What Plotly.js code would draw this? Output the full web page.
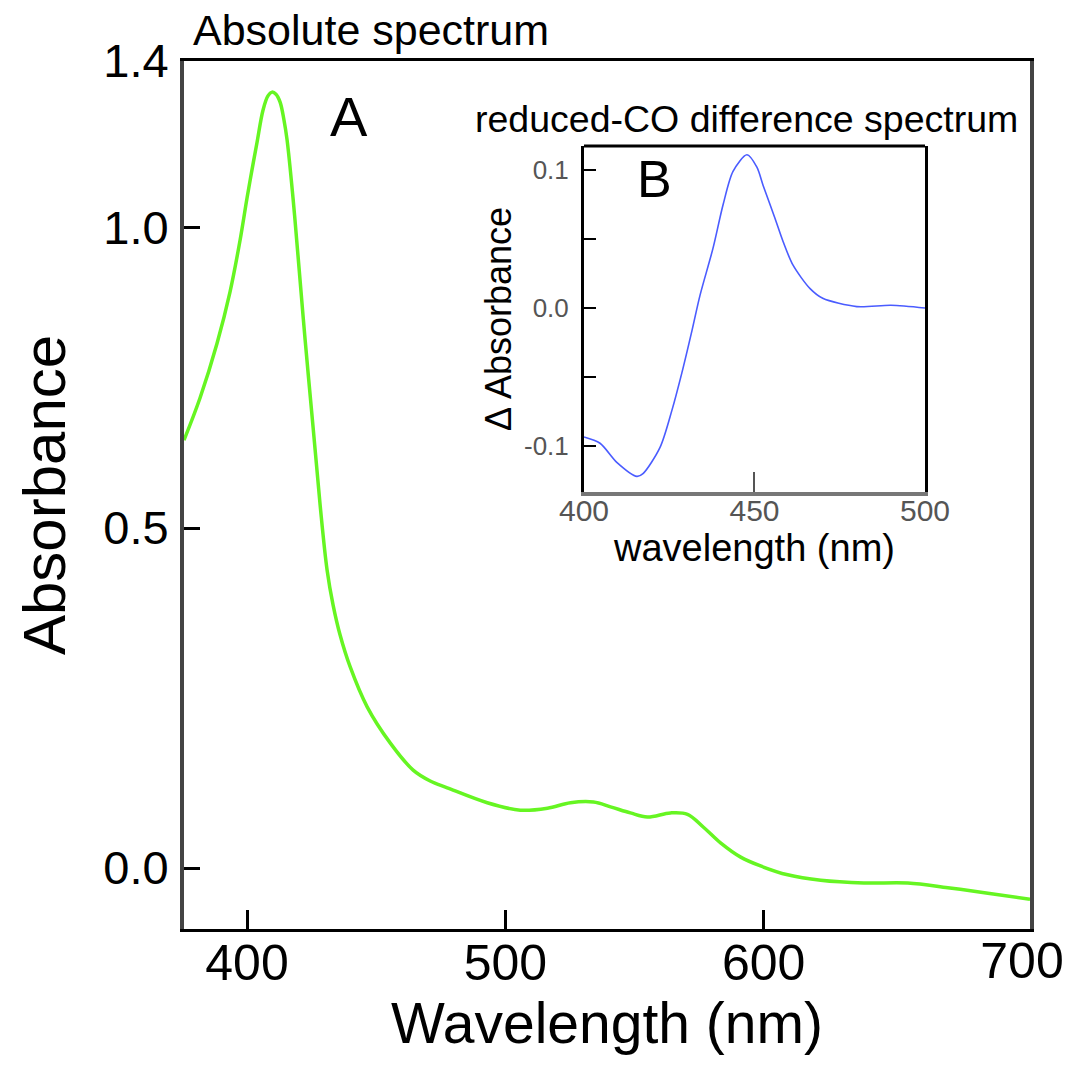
<!DOCTYPE html>
<html>
<head>
<meta charset="utf-8">
<script src="https://cdn.plot.ly/plotly-3.0.1.min.js"></script>
<style>html,body{margin:0;padding:0;background:#fff;}#chart{width:1071px;height:1066px;}</style>
</head>
<body>
<div id="chart"></div>
<script>
// ---- Panel A: absolute spectrum (values as read against the printed tick labels) ----
const mainWavelength = [375.6, 381.8, 388.4, 393.4, 397.3, 400.0, 401.9, 403.9, 406.2, 408.1, 409.7, 411.2, 412.8, 414.3, 415.5, 417.8, 419.8, 422.5, 425.6, 428.3, 431.0, 433.3, 436.0, 439.9, 446.5, 455.4, 464.3, 470.9, 477.5, 493.0, 505.8, 516.3, 525.2, 534.1, 540.7, 548.4, 555.0, 563.9, 570.5, 576.7, 583.3, 591.1, 598.8, 609.3, 622.1, 638.8, 655.8, 671.3, 686.8, 703.1];
const mainAbsorbance = [0.646, 0.716, 0.807, 0.892, 0.978, 1.070, 1.137, 1.205, 1.282, 1.316, 1.325, 1.320, 1.301, 1.258, 1.210, 1.070, 0.949, 0.812, 0.666, 0.538, 0.438, 0.387, 0.343, 0.296, 0.237, 0.184, 0.144, 0.128, 0.118, 0.096, 0.085, 0.088, 0.096, 0.097, 0.090, 0.081, 0.075, 0.081, 0.079, 0.060, 0.037, 0.016, 0.003, -0.010, -0.018, -0.022, -0.022, -0.029, -0.037, -0.046];
const mainXTicks = [400, 500, 600];
const mainXTickText = ['400', '500', '600'];
const mainXEdgeTick = [700];
const mainXEdgeTickText = ['700'];
const mainYTicks = [0, 0.5, 1.0, 1.4];
const mainYTickText = ['0.0', '0.5', '1.0', '1.4'];

// ---- Panel B: reduced-CO difference spectrum ----
const insetWavelength = [400, 404.7, 409.7, 415.5, 417.3, 422.3, 425.8, 428.7, 431.7, 434.0, 437.8, 440.8, 443.7, 447.8, 450.7, 452.5, 456.0, 458.4, 461.3, 466.3, 470.0, 480.0, 490.0, 500.0];
const insetDeltaAbs = [-0.0935, -0.098, -0.112, -0.122, -0.120, -0.101, -0.074, -0.047, -0.016, 0.009, 0.043, 0.075, 0.099, 0.111, 0.102, 0.089, 0.065, 0.048, 0.031, 0.014, 0.007, 0.001, 0.002, 0.000];
const insetXTicks = [400, 450, 500];
const insetXTickText = ['400', '450', '500'];
const insetYTicks = [-0.1, -0.05, 0, 0.05, 0.1];
const insetYTickText = ['-0.1', '', '0.0', '', '0.1'];

// The printed absorbance axis of panel A is not evenly spaced; reproduce it
// as a piecewise-linear axis scale (label value -> drawn position).
const axisScale = { labelKnots: [0, 0.5, 1.0, 1.4], drawKnots: [0, 0.5, 0.9426, 1.1868] };
function toAxis(v) {
  const a = axisScale.labelKnots, d = axisScale.drawKnots;
  if (v <= a[1]) return v;
  for (let i = 1; i < a.length - 1; i++) {
    if (v <= a[i + 1]) return d[i] + (v - a[i]) * (d[i + 1] - d[i]) / (a[i + 1] - a[i]);
  }
  const n = a.length - 1;
  return d[n] + (v - a[n]) * (d[n] - d[n - 1]) / (a[n] - a[n - 1]);
}

const FONT = 'Liberation Sans, Arial, Helvetica, sans-serif';
const X_RANGE = [375.6, 703.1];

const traces = [
  {
    x: mainWavelength,
    y: mainAbsorbance.map(toAxis),
    customdata: mainAbsorbance,
    hovertemplate: '%{x} nm: %{customdata}<extra></extra>',
    type: 'scatter', mode: 'lines',
    line: { color: '#66f522', width: 3.5, shape: 'spline', smoothing: 1 },
    xaxis: 'x', yaxis: 'y'
  },
  {
    // carries the edge tick label (700) on an overlaid axis without a tick mark
    x: mainXEdgeTick, y: [null],
    type: 'scatter', mode: 'markers', hoverinfo: 'skip',
    xaxis: 'x3', yaxis: 'y'
  },
  {
    x: insetWavelength,
    y: insetDeltaAbs,
    type: 'scatter', mode: 'lines',
    line: { color: '#4a5cff', width: 1.6, shape: 'spline', smoothing: 0.8 },
    xaxis: 'x2', yaxis: 'y2'
  }
];

const layout = {
  width: 1071, height: 1066,
  margin: { l: 184, r: 41, t: 61, b: 137, pad: 0 },
  paper_bgcolor: '#ffffff', plot_bgcolor: '#ffffff',
  showlegend: false,
  font: { family: FONT, color: '#000' },
  title: {
    text: 'Absolute spectrum',
    font: { family: FONT, size: 43, color: '#000' },
    xref: 'paper', x: 0.0106, xanchor: 'left',
    yref: 'container', y: 0.9718, yanchor: 'middle'
  },
  xaxis: {
    domain: [0, 1], anchor: 'y',
    range: X_RANGE,
    tickmode: 'array', tickvals: mainXTicks, ticktext: mainXTickText,
    ticks: 'inside', ticklen: 19, tickwidth: 3, tickcolor: '#000',
    tickfont: { family: FONT, size: 50, color: '#000' },
    ticklabelstandoff: -12,
    showline: true, linecolor: '#000', linewidth: 3, mirror: true,
    showgrid: false, zeroline: false, fixedrange: true,
    title: { text: 'Wavelength (nm)', font: { family: FONT, size: 57, color: '#000' }, standoff: 7 }
  },
  xaxis3: {
    overlaying: 'x', anchor: 'y', side: 'bottom',
    range: X_RANGE,
    tickmode: 'array', tickvals: mainXEdgeTick, ticktext: mainXEdgeTickText,
    ticks: '', showline: false, showgrid: false, zeroline: false,
    tickfont: { family: FONT, size: 50, color: '#000' },
    ticklabelstandoff: -2, fixedrange: true
  },
  yaxis: {
    domain: [0, 1], anchor: 'x',
    range: [-0.0897, 1.1868],
    tickmode: 'array', tickvals: mainYTicks.map(toAxis), ticktext: mainYTickText,
    ticks: 'inside', ticklen: 16, tickwidth: 3, tickcolor: '#000',
    tickfont: { family: FONT, size: 47, color: '#000' },
    ticklabelstandoff: 2,
    showline: true, linecolor: '#444', linewidth: 4, mirror: true,
    showgrid: false, zeroline: false, fixedrange: true,
    title: { text: 'Absorbance', font: { family: FONT, size: 60, color: '#000' }, standoff: 19 }
  },
  xaxis2: {
    domain: [0.4728, 0.8759], anchor: 'y2',
    range: [400, 500],
    tickmode: 'array', tickvals: insetXTicks, ticktext: insetXTickText,
    ticks: 'inside', ticklen: 20, tickwidth: 2, tickcolor: '#555',
    tickfont: { family: FONT, size: 30, color: '#555' },
    ticklabelstandoff: -11,
    showline: true, linecolor: '#777', linewidth: 4, mirror: false,
    showgrid: false, zeroline: false, fixedrange: true,
    title: { text: 'wavelength (nm)', font: { family: FONT, size: 38, color: '#000' }, standoff: 9 }
  },
  yaxis2: {
    domain: [0.5035, 0.9021], anchor: 'x2',
    range: [-0.1333, 0.1174],
    tickmode: 'array', tickvals: insetYTicks, ticktext: insetYTickText,
    ticks: 'inside', ticklen: 12, tickwidth: 2, tickcolor: '#000',
    tickfont: { family: FONT, size: 26, color: '#555' },
    ticklabelstandoff: 7,
    showline: true, linecolor: '#000', linewidth: 3, mirror: true,
    showgrid: false, zeroline: false, fixedrange: true,
    title: { text: 'Δ Absorbance', font: { family: FONT, size: 36, color: '#000' }, standoff: 2 }
  },
  shapes: [
    { type: 'line', xref: 'x2 domain', yref: 'y2 domain', x0: 0, x1: 1, y0: 1, y1: 1,
      line: { color: '#000', width: 3 } }
  ],
  annotations: [
    { text: 'A', xref: 'paper', yref: 'paper', x: 0.195, y: 0.936, xanchor: 'center', yanchor: 'middle',
      showarrow: false, font: { family: FONT, size: 56, color: '#000' } },
    { text: 'B', xref: 'paper', yref: 'paper', x: 0.5562, y: 0.8635, xanchor: 'center', yanchor: 'middle',
      showarrow: false, font: { family: FONT, size: 52, color: '#000' } },
    { text: 'reduced-CO difference spectrum', xref: 'paper', yref: 'paper', x: 0.6649, y: 0.9332,
      xanchor: 'center', yanchor: 'middle', showarrow: false,
      font: { family: FONT, size: 37.5, color: '#000' } }
  ]
};

Plotly.newPlot('chart', traces, layout, { displayModeBar: false, staticPlot: true });
</script>
</body>
</html>
